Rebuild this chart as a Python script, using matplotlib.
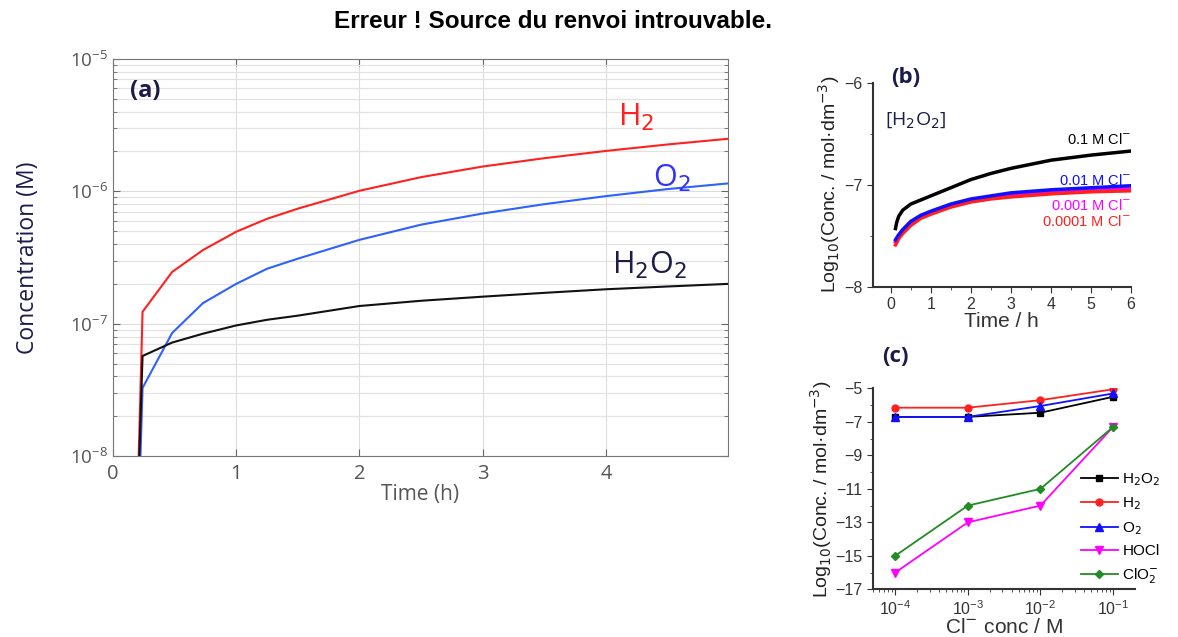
import numpy as np
import matplotlib.pyplot as plt
from matplotlib.ticker import LogLocator, NullFormatter, MultipleLocator

# panel (a) : simulated concentrations vs time
t_a = [0.2, 0.24, 0.48, 0.73, 1.0, 1.25, 1.5, 2.0, 2.5, 3.0, 3.5, 4.0, 4.5, 5.0]
h2_a = [5e-9, 1.23e-7, 2.46e-7, 3.6e-7, 4.95e-7, 6.2e-7, 7.4e-7, 1.01e-6, 1.28e-6,
        1.54e-6, 1.78e-6, 2.02e-6, 2.26e-6, 2.5e-6]
o2_a = [2e-9, 3.27e-8, 8.5e-8, 1.43e-7, 2.0e-7, 2.6e-7, 3.1e-7, 4.3e-7, 5.6e-7,
        6.8e-7, 8.0e-7, 9.2e-7, 1.04e-6, 1.15e-6]
h2o2_a = [4e-9, 5.7e-8, 7.2e-8, 8.4e-8, 9.7e-8, 1.07e-7, 1.15e-7, 1.36e-7, 1.49e-7,
          1.6e-7, 1.71e-7, 1.82e-7, 1.91e-7, 2.0e-7]

# panel (b) : log10 [H2O2] vs time for several Cl- concentrations
t_b = [0.12, 0.15, 0.2, 0.3, 0.5, 0.75, 1.0, 1.5, 2.0, 2.5, 3.0, 4.0, 5.0, 6.0]
cl01_b = [-7.43, -7.37, -7.31, -7.25, -7.19, -7.15, -7.11, -7.03, -6.95, -6.89, -6.84,
          -6.76, -6.71, -6.67]
cl001_b = [-7.54, -7.52, -7.49, -7.44, -7.36, -7.30, -7.26, -7.19, -7.14, -7.11, -7.08,
           -7.05, -7.03, -7.01]
cl0001_b = [-7.56, -7.54, -7.51, -7.46, -7.38, -7.32, -7.28, -7.21, -7.16, -7.13, -7.10,
            -7.07, -7.05, -7.04]
cl00001_b = [-7.59, -7.57, -7.53, -7.48, -7.40, -7.33, -7.29, -7.22, -7.17, -7.14, -7.12,
             -7.09, -7.07, -7.06]
labels_b = ["0.1 M Cl$^{-}$", "0.01 M Cl$^{-}$", "0.001 M Cl$^{-}$", "0.0001 M Cl$^{-}$"]

# panel (c) : log10 conc vs Cl- concentration
cl_c = [1e-4, 1e-3, 1e-2, 1e-1]
h2o2_c = [-6.7, -6.7, -6.45, -5.5]
h2_c = [-6.15, -6.15, -5.7, -5.05]
o2_c = [-6.7, -6.7, -6.05, -5.3]
hocl_c = [-16.0, -13.0, -12.0, -7.3]
clo2_c = [-15.0, -12.0, -11.0, -7.3]

navy = "#1c1c4a"
grey = "#555555"

fig = plt.figure(figsize=(11.78, 6.37), dpi=100)
fig.text(0.4695, 0.966, "Erreur ! Source du renvoi introuvable.", ha="center", va="center",
         fontsize=17.5, fontweight="bold", family="Liberation Sans")

# ---------- (a)
ax = fig.add_axes([0.0959, 0.2841, 0.5221, 0.6233])
ax.plot(t_a, h2_a, color="#ff2020", lw=1.5)
ax.plot(t_a, o2_a, color="#3060ff", lw=1.5)
ax.plot(t_a, h2o2_a, color="#111111", lw=1.5)
ax.set_yscale("log")
ax.set_ylim(1e-8, 1e-5)
ax.set_xlim(0, 4.99)
ax.set_xticks([0, 1, 2, 3, 4])
ax.yaxis.set_major_locator(LogLocator(base=10, numticks=10))
ax.yaxis.set_minor_locator(LogLocator(base=10, subs=np.arange(2, 10), numticks=10))
ax.yaxis.set_minor_formatter(NullFormatter())
ax.grid(True, which="major", color="#dddddd", lw=0.8)
ax.grid(True, which="minor", axis="y", color="#e3e3e3", lw=0.9)
ax.tick_params(which="both", direction="in", top=True, right=True, color="#666666",
               labelcolor=grey, labelsize=13.5)
ax.tick_params(axis="x", labelsize=14.5, pad=6)
ax.tick_params(which="major", length=5)
ax.tick_params(which="minor", length=3)
for s in ax.spines.values():
    s.set_color("#777777")
for lab in ax.get_xticklabels() + ax.get_yticklabels():
    lab.set_family("Open Sans")
ax.set_xlabel("Time (h)", fontsize=15, color=grey, family="Open Sans", labelpad=0)
ax.set_ylabel("Concentration (M)", fontsize=16.5, color=navy, family="Open Sans", labelpad=22)
ax.text(0.028, 0.92, "(a)", transform=ax.transAxes, fontsize=17, fontweight="bold",
        color=navy, family="Open Sans", va="center")
ax.text(4.1, 3.6e-6, "H$_2$", color="#ff2020", fontsize=22, family="Open Sans", va="center")
ax.text(4.38, 1.25e-6, "O$_2$", color="#3030ff", fontsize=22, family="Open Sans", va="center")
ax.text(4.05, 2.75e-7, "H$_2$O$_2$", color=navy, fontsize=22, family="Open Sans", va="center")

# ---------- (b)
bx = fig.add_axes([0.7408, 0.5499, 0.2193, 0.3203])
bx.plot(t_b, cl01_b, color="black", lw=2.5)
bx.plot(t_b, cl0001_b, color="#ff00ff", lw=2.5)
bx.plot(t_b, cl00001_b, color="#ff2020", lw=2.5)
bx.plot(t_b, cl001_b, color="#1010ff", lw=2.5)
bx.set_xlim(-0.45, 6)
bx.set_ylim(-8, -6)
bx.set_xticks(range(7))
bx.set_yticks([-8, -7, -6])
bx.xaxis.set_minor_locator(MultipleLocator(0.5))
bx.yaxis.set_minor_locator(MultipleLocator(0.5))
for s in ["top", "right"]:
    bx.spines[s].set_visible(False)
for s in ["left", "bottom"]:
    bx.spines[s].set_linewidth(1.5)
    bx.spines[s].set_color("#333333")
bx.tick_params(which="both", direction="out", labelsize=11.5, color="#333333",
               labelcolor="#333333")
bx.tick_params(which="major", length=4)
bx.tick_params(which="minor", length=2)
for lab in bx.get_xticklabels() + bx.get_yticklabels():
    lab.set_family("Liberation Sans")
bx.set_xlabel("Time / h", fontsize=15, family="Liberation Sans", color="#333333", labelpad=0)
bx.set_ylabel("Log$_{10}$(Conc. / mol·dm$^{-3}$)", fontsize=14, family="Liberation Sans",
              color="#222222", labelpad=1)
bx.text(0.0, -5.95, "(b)", fontsize=16, fontweight="bold", color=navy, family="Open Sans",
        va="center")
bx.text(-0.15, -6.37, "[H$_2$O$_2$]", fontsize=14, color=navy, family="Open Sans", va="center")
label_y = [-6.56, -6.96, -7.2, -7.36]
label_c = ["black", "#1010ff", "#ff00ff", "#ff2020"]
for lab, yy, cc in zip(labels_b, label_y, label_c):
    bx.text(6, yy, lab, ha="right", va="center", color=cc, fontsize=10.5,
            family="Liberation Sans")

# ---------- (c)
cx = fig.add_axes([0.7408, 0.0749, 0.2226, 0.3153])
cx.plot(cl_c, h2o2_c, color="black", marker="s", ms=5, lw=1.3, label="H$_2$O$_2$")
cx.plot(cl_c, h2_c, color="#ff2020", marker="o", ms=5, lw=1.3, label="H$_2$")
cx.plot(cl_c, o2_c, color="#1010ff", marker="^", ms=6, lw=1.3, label="O$_2$")
cx.plot(cl_c, hocl_c, color="#ff00ff", marker="v", ms=6, lw=1.3, label="HOCl")
cx.plot(cl_c, clo2_c, color="#228b22", marker="D", ms=4.5, lw=1.3, label="ClO$_2^{-}$")
cx.set_xscale("log")
cx.set_xlim(10 ** -4.31, 10 ** -0.7)
cx.set_ylim(-17, -5)
cx.set_yticks([-17, -15, -13, -11, -9, -7, -5])
cx.yaxis.set_minor_locator(MultipleLocator(1))
cx.xaxis.set_minor_formatter(NullFormatter())
for s in ["top", "right"]:
    cx.spines[s].set_visible(False)
for s in ["left", "bottom"]:
    cx.spines[s].set_linewidth(1.5)
    cx.spines[s].set_color("#333333")
cx.tick_params(which="both", direction="out", labelsize=11.5, color="#333333",
               labelcolor="#333333")
cx.tick_params(which="major", length=4)
cx.tick_params(which="minor", length=2)
for lab in cx.get_xticklabels() + cx.get_yticklabels():
    lab.set_family("Liberation Sans")
cx.set_xlabel("Cl$^{-}$ conc / M", fontsize=15, family="Liberation Sans", color="#333333",
              labelpad=0)
cx.set_ylabel("Log$_{10}$(Conc. / mol·dm$^{-3}$)", fontsize=14, family="Liberation Sans",
              color="#222222", labelpad=1)
cx.text(0.035, 1.16, "(c)", transform=cx.transAxes, fontsize=16, fontweight="bold",
        color=navy, family="Open Sans", va="center")
leg = cx.legend(loc="lower right", bbox_to_anchor=(1.15, -0.05), frameon=False,
                handlelength=2.4, handletextpad=0.3, labelspacing=0.5,
                prop={"family": "Liberation Sans", "size": 11})

fig.savefig("out.png", dpi=100)
